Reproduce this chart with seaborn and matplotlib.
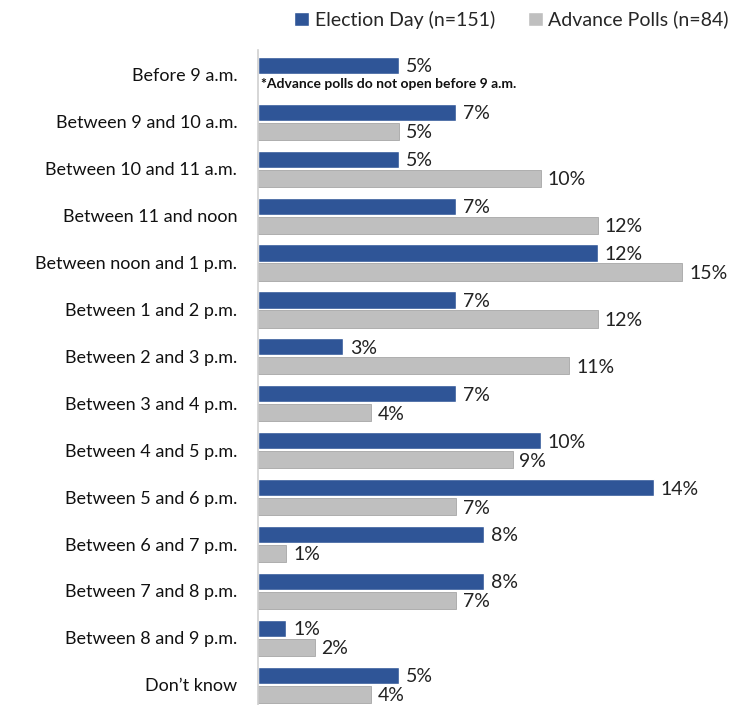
import numpy as np
import pandas as pd
import matplotlib
matplotlib.use('Agg')
import matplotlib.pyplot as plt
import seaborn as sns
from matplotlib.patches import Patch

#-----------
# DATA
#-----------
categories = [
  'Before 9 a.m.', 'Between 9 and 10 a.m.', 'Between 10 and 11 a.m.', 'Between 11 and noon',
  'Between noon and 1 p.m.', 'Between 1 and 2 p.m.', 'Between 2 and 3 p.m.', 'Between 3 and 4 p.m.',
  'Between 4 and 5 p.m.', 'Between 5 and 6 p.m.', 'Between 6 and 7 p.m.', 'Between 7 and 8 p.m.',
  'Between 8 and 9 p.m.', 'Don\u2019t know',
]
election_day = [5, 7, 5, 7, 12, 7, 3, 7, 10, 14, 8, 8, 1, 5]
advance_polls = [np.nan, 5, 10, 12, 15, 12, 11, 4, 9, 7, 1, 7, 2, 4]
series = ['Election Day (n=151)', 'Advance Polls (n=84)']
note = '*Advance polls do not open before 9 a.m.'

BLUE = '#2F5597'
GREY = '#BFBFBF'

df = pd.DataFrame({
  'category': categories * 2,
  'value': election_day + advance_polls,
  'series': [series[0]] * len(categories) + [series[1]] * len(categories),
})

sns.set_style('white')
plt.rcParams['font.family'] = ['Lato', 'DejaVu Sans']

fig = plt.figure(figsize=(7.39, 7.05), dpi=100)
ax = fig.add_axes([258 / 739, 0, 1 - 258 / 739, 1 - 50 / 705])

sns.barplot(data=df, y='category', x='value', hue='series', order=categories, hue_order=series,
  palette=[BLUE, GREY], saturation=1, orient='h', width=0.81, gap=0.1, legend=False, ax=ax)

# thin darker outline on grey bars
for p in ax.containers[1]:
  p.set_edgecolor('#A6A6A6')
  p.set_linewidth(0.6)

# value labels (match each bar to its category by position, NaN bars are dropped)
for cont, vals in zip(ax.containers, [election_day, advance_polls]):
  for p in cont:
    idx = int(round(p.get_y() + p.get_height() / 2))
    v = vals[idx]
    if np.isnan(v):
      continue
    ax.text(p.get_x() + p.get_width() + 0.24, p.get_y() + p.get_height() / 2 + 0.03, f"{v:.0f}%",
      va='center', ha='left', fontsize=14, color='#222222')

# note where advance polls bar is missing
ax.text(0.1, 0.2, note, fontsize=10, fontweight='bold', va='center', ha='left', color='#111111')

ax.set_xlim(0, 17)
ax.set_ylim(13.43, -0.53)
ax.set_xlabel('')
ax.set_ylabel('')
ax.set_xticks([])
ax.tick_params(axis='y', length=0, pad=15, labelsize=13, labelcolor='#111111')
for s in ['top', 'right', 'bottom']:
  ax.spines[s].set_visible(False)
ax.spines['left'].set_color('#D0D0D0')
ax.spines['left'].set_linewidth(1.2)

handles = [Patch(facecolor=BLUE, label=series[0]), Patch(facecolor=GREY, label=series[1])]
fig.legend(handles=handles, loc='upper right', bbox_to_anchor=(1.01, 1.01), ncol=2, frameon=False,
  fontsize=14, handlelength=0.75, handleheight=0.75, handletextpad=0.3, columnspacing=1.7)

fig.savefig('out.png', dpi=100)
